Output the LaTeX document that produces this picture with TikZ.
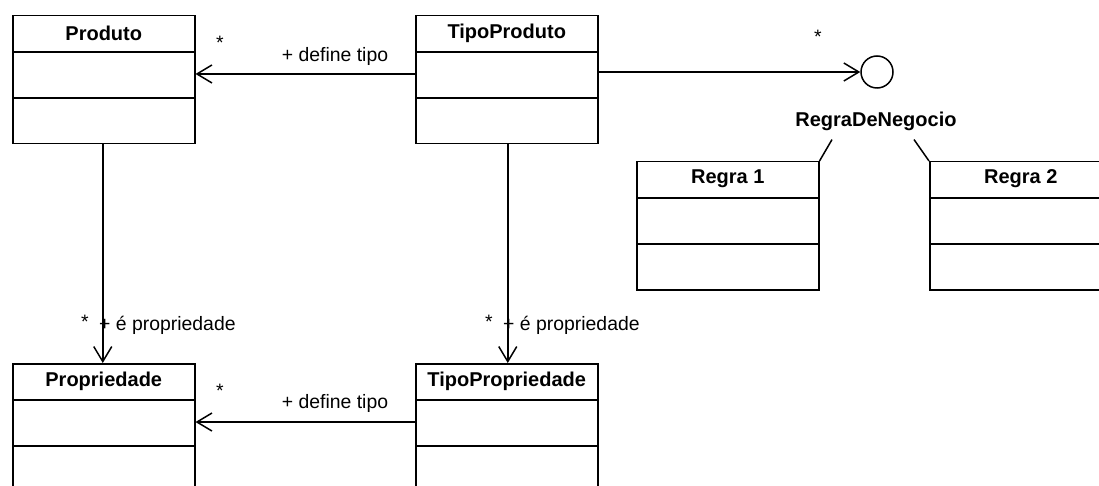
\documentclass[tikz,border=0pt]{standalone}
\usepackage{fontspec}
\setmainfont{Liberation Sans}
\usetikzlibrary{arrows.meta,calc}
\tikzset{
  classbox/.style={draw, line width=1.5pt, minimum width=182pt, minimum height=128pt, anchor=north west, inner sep=0pt},
  ctitle/.style={font=\fontsize{20}{23}\selectfont\bfseries, inner sep=0pt},
  lbl/.style={font=\fontsize{19.4}{22}\selectfont, inner sep=0pt},
  conn/.style={line width=1.5pt},
  assoc/.style={conn, -{Straight Barb[length=15pt, width=18pt, line width=1.5pt]}},
  iface/.style={draw, circle, line width=1.5pt, minimum size=32pt, inner sep=0pt}
}
\newcommand{\umlsep}[1]{%
  \draw[line width=1.5pt] ($(#1.north west)+(0,37)$) -- ($(#1.north east)+(0,37)$);
  \draw[line width=1.5pt] ($(#1.north west)+(0,83)$) -- ($(#1.north east)+(0,83)$);
}
\begin{document}
\begin{tikzpicture}[x=1pt,y=-1pt]
\clip (0,0) rectangle (1099,486);
\fill[white] (0,0) rectangle (1099,486);

% classes
\node[classbox] (produto) at (12,15) {};
\node[classbox] (tipoproduto) at (415,15) {};
\node[classbox] (regra1) at (636,161) {};
\node[classbox] (regra2) at (929,161) {};
\node[classbox] (propriedade) at (12,363) {};
\node[classbox] (tipopropriedade) at (415,363) {};
\umlsep{produto}
\umlsep{tipoproduto}
\umlsep{regra1}
\umlsep{regra2}
\umlsep{propriedade}
\umlsep{tipopropriedade}

\node[ctitle] (tProduto) at ($(produto.north)+(0,18)$) {Produto};
\node[ctitle] (tTipoProduto) at ($(tipoproduto.north)+(0,18)$) {TipoProduto};
\node[ctitle] (tRegra1) at ($(regra1.north)+(0,18)$) {Regra 1};
\node[ctitle] (tRegra2) at ($(regra2.north)+(0,18)$) {Regra 2};
\node[ctitle] (tPropriedade) at ($(propriedade.north)+(0,18)$) {Propriedade};
\node[ctitle] (tTipoPropriedade) at ($(tipopropriedade.north)+(0,18)$) {TipoPropriedade};

% interface
\node[iface] (rdn) at (877,72) {};
\node[ctitle] (rdnlabel) at (876,121) {RegraDeNegocio};

% connectors
\draw[assoc] ($(tipoproduto.north west)+(0,59)$) -- ($(produto.north east)+(0,59)$);
\draw[assoc] ($(tipopropriedade.north west)+(0,59)$) -- ($(propriedade.north east)+(0,59)$);
\draw[assoc] (tipoproduto.east |- rdn.west) -- (rdn.west);
\draw[assoc] ($(produto.south)+(-1,0)$) -- ($(propriedade.north)+(-1,0)$);
\draw[assoc] ($(tipoproduto.south)+(1,0)$) -- ($(tipopropriedade.north)+(1,0)$);
\draw[conn] ($(rdnlabel.south)+(-44,9)$) -- (regra1.north east);
\draw[conn] ($(rdnlabel.south)+(38,9)$) -- (regra2.north west);

% labels
\node[lbl] (s1) at (220,43) {*};
\node[lbl] (d1) at (335,56) {+ define tipo};
\node[lbl] (s2) at (818,37) {*};
\node[lbl] (s3) at (85,322) {*};
\node[lbl, anchor=west] (p1) at (99,325) {+ é propriedade};
\node[lbl] (s4) at (489,322) {*};
\node[lbl, anchor=west] (p2) at (503,325) {+ é propriedade};
\node[lbl] (s5) at (220,391) {*};
\node[lbl] (d2) at (335,403) {+ define tipo};
\end{tikzpicture}
\end{document}
